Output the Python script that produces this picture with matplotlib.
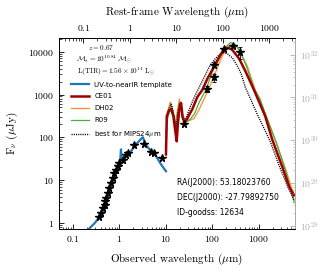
import numpy as np
import matplotlib
matplotlib.use("Agg")
import matplotlib.pyplot as plt
from matplotlib.ticker import FixedLocator, LogLocator, NullFormatter, FuncFormatter

plt.rcParams['mathtext.fontset'] = 'cm'
plt.rcParams['axes.formatter.use_mathtext'] = True

z = 0.67
lum_factor = 1.17e28  # F_nu (uJy) -> L_nu (erg/s/Hz)

# photometry (observed micron, uJy)
phot_lam = [0.37, 0.40, 0.44, 0.48, 0.49, 0.52, 0.56, 0.61, 0.66, 0.72, 0.78, 0.85,
            0.92, 1.0, 1.18, 1.39, 1.56, 2.1, 3.45, 4.8, 5.6, 8.1,
            24, 77, 110, 110, 180, 280, 390]
phot_flux = [1.36, 1.69, 2.2, 2.65, 3.2, 3.8, 5.0, 6.5, 8.6, 11.3, 14.7, 17.6,
             21, 25, 30, 38, 43, 66, 68, 45, 43, 33,
             202, 1350, 2540, 4940, 11300, 13600, 9840]
phot_err_lo = [0] * 22 + [0, 200, 570, 0, 0, 900, 3000]
phot_err_hi = [0] * 22 + [0, 250, 500, 0, 0, 900, 3000]

# UV-to-nearIR template
uv_lam = [0.209, 0.291, 0.405, 0.477, 0.561, 0.664, 0.781, 0.92, 1.035, 1.077, 1.12,
          1.39, 1.78, 2.28, 2.92, 3.19, 3.74, 4.79, 6.13, 7.85, 10.0]
uv_flux = [0.684, 0.98, 1.54, 2.42, 4.16, 7.14, 12.3, 21.1, 27.7, 52.2, 30.4,
           36.3, 47.6, 68.4, 92.2, 100, 64.9, 47.6, 36.3, 23.2, 16.1]

# CE01
ce_lam = [10.0, 10.4, 11.4, 12.9, 14.4, 15.9, 17.0, 18.0, 19.4, 21.1, 22.8, 24.8, 27.4,
          36.9, 47.2, 60.4, 77.3, 99, 140, 179, 218, 266, 376, 506, 715, 1010, 1360,
          1920, 3150, 4450, 5690]
ce_flux = [39.8, 312, 409, 456, 312, 138, 80.5, 202, 456, 631, 296, 225, 251,
           456, 874, 1280, 2320, 3770, 7620, 11800, 12400, 11100, 6840, 3570, 1585, 666, 312,
           89.8, 20.8, 7.03, 4.32]

# DH02
dh_lam = [10.0, 10.5, 11.5, 12.4, 13.7, 15.9, 17.6, 19.4, 20.9, 22.8, 26.1, 33.4, 40.7,
          52.1, 77.3, 109, 162, 208, 266, 341, 415, 558, 789, 1110, 1430, 2340, 3840,
          5160, 5690]
dh_flux = [89.8, 329, 508, 666, 409, 225, 409, 783, 566, 329, 265, 251, 280,
           456, 1150, 2720, 8050, 12400, 14600, 13100, 8970, 4690, 1500, 597, 312, 76.3, 16.7,
           5.98, 4.81]

# R09
r09_lam = [10.0, 10.5, 11.8, 13.3, 14.4, 16.5, 18.0, 20.1, 21.4, 22.8, 27.0, 31.8, 40.7,
           52.1, 73.6, 99, 140, 188, 241, 308, 395, 531, 789, 1060, 1430, 2340, 3840, 5690]
r09_flux = [52, 238, 387, 536, 387, 181, 348, 666, 508, 312, 225, 251, 348,
            666, 1350, 3380, 6840, 12400, 16300, 14600, 10000, 4690, 1350, 783, 312, 76.3, 15.0,
            2.96]

# best for MIPS24
m24_lam = [10.0, 10.5, 11.5, 12.9, 14.1, 15.1, 16.5, 17.8, 19.4, 20.9, 22.8, 24.8,
           31.8, 40.7, 52.1, 66.7, 85.4, 109, 140, 171, 208, 266, 341, 415, 506, 915,
           1740, 2710, 4230, 5690]
m24_flux = [44, 296, 456, 597, 409, 265, 154, 348, 597, 508, 265, 213,
            456, 874, 1500, 2580, 4440, 6480, 8500, 9470, 8970, 7230, 4690, 3040, 1500, 348,
            80.5, 21.9, 6.66, 3.48]

xlim = (0.05, 5900)
ylim = (0.72, 21000)

fig = plt.figure(figsize=(3.24, 2.71), dpi=100)
ax = fig.add_axes([0.182, 0.155, 0.728, 0.705])

ax.plot(uv_lam, uv_flux, color='#1f77b4', lw=1.6, label='UV-to-nearIR template', zorder=3)
ax.plot(ce_lam, ce_flux, color='#a00000', lw=1.8, label='CE01', zorder=4)
ax.plot(dh_lam, dh_flux, color='#ff8c2a', lw=0.9, label='DH02', zorder=3)
ax.plot(r09_lam, r09_flux, color='#44b044', lw=0.9, label='R09', zorder=3)
ax.plot(m24_lam, m24_flux, color='k', lw=1.0, ls=(0, (0.8, 0.8)),
        label=r'best for MIPS24$\mu$m', zorder=3)

ax.errorbar(phot_lam, phot_flux, yerr=[phot_err_lo, phot_err_hi], fmt='none',
            ecolor='k', elinewidth=0.6, capsize=1.5, capthick=0.6, zorder=5)
ax.plot(phot_lam, phot_flux, ls='none', marker='*', ms=5.5, color='k', zorder=6)

ax.set_xscale('log')
ax.set_yscale('log')
ax.set_xlim(*xlim)
ax.set_ylim(*ylim)

tick_fmt = FuncFormatter(lambda v, p: r'$%g$' % v)
ax.xaxis.set_major_locator(FixedLocator([0.1, 1, 10, 100, 1000]))
ax.yaxis.set_major_locator(FixedLocator([1, 10, 100, 1000, 10000]))
ax.xaxis.set_major_formatter(tick_fmt)
ax.yaxis.set_major_formatter(tick_fmt)
ax.xaxis.set_minor_locator(LogLocator(subs=np.arange(2, 10)))
ax.yaxis.set_minor_locator(LogLocator(subs=np.arange(2, 10)))
ax.xaxis.set_minor_formatter(NullFormatter())
ax.yaxis.set_minor_formatter(NullFormatter())
ax.tick_params(which='both', direction='in', labelsize=7, top=False, right=False)
ax.tick_params(which='major', length=3.5, width=0.6)
ax.tick_params(which='minor', length=1.8, width=0.5)

ax.set_xlabel(r'Observed wavelength ($\mu$m)', fontfamily='cmr10', fontsize=8, labelpad=6)
ax.set_ylabel(r'F$_\nu$ ($\mu$Jy)', fontfamily='cmr10', fontsize=8, labelpad=6)

# rest-frame axis
axt = ax.twiny()
axt.set_xscale('log')
axt.set_xlim(xlim[0] / (1 + z), xlim[1] / (1 + z))
axt.xaxis.set_major_locator(FixedLocator([0.1, 1, 10, 100, 1000]))
axt.xaxis.set_major_formatter(tick_fmt)
axt.xaxis.set_minor_locator(LogLocator(subs=np.arange(2, 10)))
axt.xaxis.set_minor_formatter(NullFormatter())
axt.tick_params(which='both', direction='in', labelsize=7)
axt.tick_params(which='major', length=3.5, width=0.6)
axt.tick_params(which='minor', length=1.8, width=0.5)
axt.set_xlabel(r'Rest-frame Wavelength ($\mu$m)', fontfamily='cmr10', fontsize=8, labelpad=6)

# luminosity axis
axr = ax.twinx()
axr.set_yscale('log')
axr.set_ylim(ylim[0] * lum_factor, ylim[1] * lum_factor)
axr.yaxis.set_major_locator(FixedLocator([1e28, 1e29, 1e30, 1e31, 1e32]))
axr.yaxis.set_major_formatter(FuncFormatter(lambda v, p: r'$10^{%d}$' % round(np.log10(v))))
axr.yaxis.set_minor_locator(LogLocator(subs=np.arange(2, 10)))
axr.yaxis.set_minor_formatter(NullFormatter())
gray = '#b0b0b0'
axr.tick_params(which='both', direction='in', labelsize=7, colors=gray)
axr.tick_params(which='major', length=3.5, width=0.6)
axr.tick_params(which='minor', length=1.8, width=0.5)
axr.spines['right'].set_color(gray)
for a in (ax, axt, axr):
    for s in a.spines.values():
        s.set_linewidth(0.7)

ax.text(0.178, 0.948, r'$z=0.67$', transform=ax.transAxes, ha='center', va='center',
        fontsize=5.2)
ax.text(0.191, 0.892, r'$\mathcal{M}_{*}=10^{10.84}\ \mathcal{M}_{\odot}$',
        transform=ax.transAxes, ha='center', va='center', fontsize=5.2)
ax.text(0.242, 0.820, r'$\mathrm{L(TIR)}=1.56\times10^{11}\ \mathrm{L}_{\odot}$',
        transform=ax.transAxes, ha='center', va='center', fontsize=5.2)

info = ['RA(J2000): 53.18023760', 'DEC(J2000): -27.79892750', 'ID-goodss: 12634']
for i, t in enumerate(info):
    ax.text(0.5, 0.241 - i * 0.077, t, transform=ax.transAxes, ha='left', va='center',
            fontsize=5.5, fontfamily='DejaVu Sans')

ax.legend(loc='upper left', bbox_to_anchor=(0.05, 0.772), frameon=False,
          prop={'family': 'DejaVu Sans', 'size': 5}, handlelength=2.6,
          handletextpad=0.8, labelspacing=0.85, borderpad=0, borderaxespad=0)

fig.savefig('out.png', dpi=100)
